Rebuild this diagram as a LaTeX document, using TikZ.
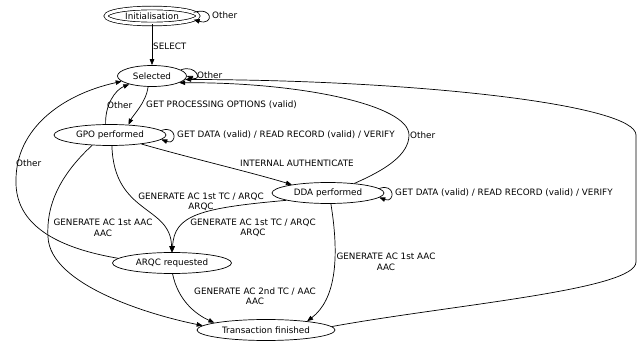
\documentclass[tikz,border=0pt]{standalone}
\usepackage{fontspec}
\setmainfont{DejaVu Sans}
\usetikzlibrary{shapes.geometric,arrows.meta}

\begin{document}
\begin{tikzpicture}
[x=1pt,y=-1pt,
  nodedecorate/.style={shape=ellipse,draw,line width=0.7pt,inner sep=0pt,minimum height=21pt},%
  startdecorate/.style={nodedecorate,double,double distance=3pt,minimum width=92pt,minimum height=16pt},
  linedecorate/.style={-{Triangle[length=6pt,width=4.5pt]},line width=0.7pt},
  labeldecorate/.style={inner sep=0pt,align=center},
  every node/.style={font=\fontsize{8.8}{10.5}\selectfont}]
\useasboundingbox (0,0) rectangle (641,345);
%% states
\node (init) at (152,16) [startdecorate] {Initialisation};
\foreach \nodename/\x/\y/\w/\txt in {sel/152/76/69/Selected, gpo/110/135/112/GPO performed,
  dda/328/193/112/DDA performed, arqc/172/263/119/ARQC requested, tf/266/330/138/Transaction finished} {
  \node (\nodename) at (\x,\y) [nodedecorate,minimum width=\w pt] {\txt};
}
%% self loops
\foreach \nodename/\a/\b/\dx in {init/5/-5/20, sel/12/0/16, gpo/5/-5/16, dda/5/-5/16} {
  \draw[linedecorate] (\nodename.\a) .. controls +(\dx,-6) and +(\dx,6) .. (\nodename.\b);
}
%% transitions
\draw[linedecorate] (init) -- (sel);
\draw[linedecorate] (sel.-110) .. controls (146,103) and (133,115) .. (gpo.29);
\draw[linedecorate] (gpo.112) .. controls (105,105) and (115,90) .. (sel.-160);
\draw[linedecorate] (gpo.-16) .. controls (190,158) and (250,172) .. (dda.167);
\draw[linedecorate] (dda.20) .. controls (385,170) and (409,155) .. (409,135)
  .. controls (409,105) and (300,82) .. (sel.-14);
\draw[linedecorate] (tf.3) .. controls (450,305) and (636,290) .. (636,262) -- (636,135)
  .. controls (636,105) and (420,80) .. (sel.-6);
\draw[linedecorate] (gpo.-80) .. controls (114,215) and (171,205) .. (arqc.92);
\draw[linedecorate] (dda.-170) .. controls (200,208) and (174,215) .. (arqc.88);
\draw[linedecorate] (gpo.-150) .. controls (60,175) and (46,205) .. (48,237)
  .. controls (50,285) and (150,315) .. (tf.176);
\draw[linedecorate] (arqc.175) .. controls (40,245) and (15,215) .. (16,180)
  .. controls (16,130) and (60,95) .. (sel.-170);
\draw[linedecorate] (arqc.-87) .. controls (178,300) and (195,314) .. (tf.172);
\draw[linedecorate] (dda.-75) .. controls (340,260) and (335,300) .. (tf.12);
%% labels
\node (lselect) at (153,46) [labeldecorate,anchor=west] {SELECT};
\node (linit) at (212,15) [labeldecorate,anchor=west] {Other};
\node (lsel) at (197,75) [labeldecorate,anchor=west] {Other};
\node (lgpo) at (146,105) [labeldecorate,anchor=west] {GET PROCESSING OPTIONS (valid)};
\node (lgposel) at (107,105) [labeldecorate,anchor=west] {Other};
\node (lgpoloop) at (177,135) [labeldecorate,anchor=west] {GET DATA (valid) / READ RECORD (valid) / VERIFY};
\node (lintauth) at (297,163) [labeldecorate] {INTERNAL AUTHENTICATE};
\node (lddasel) at (410,135) [labeldecorate,anchor=west] {Other};
\node (lddaloop) at (395,193) [labeldecorate,anchor=west] {GET DATA (valid) / READ RECORD (valid) / VERIFY};
\node (lgpoarqc) at (201,202) [labeldecorate] {GENERATE AC 1st TC / ARQC\\ARQC};
\node (lddaarqc) at (253,228) [labeldecorate] {GENERATE AC 1st TC / ARQC\\ARQC};
\node (lgpotf) at (103,228) [labeldecorate] {GENERATE AC 1st AAC\\AAC};
\node (larqcsel) at (16,163) [labeldecorate,anchor=west] {Other};
\node (larqctf) at (255,296) [labeldecorate] {GENERATE AC 2nd TC / AAC\\AAC};
\node (lddatf) at (386,262) [labeldecorate] {GENERATE AC 1st AAC\\AAC};
\end{tikzpicture}
\end{document}
